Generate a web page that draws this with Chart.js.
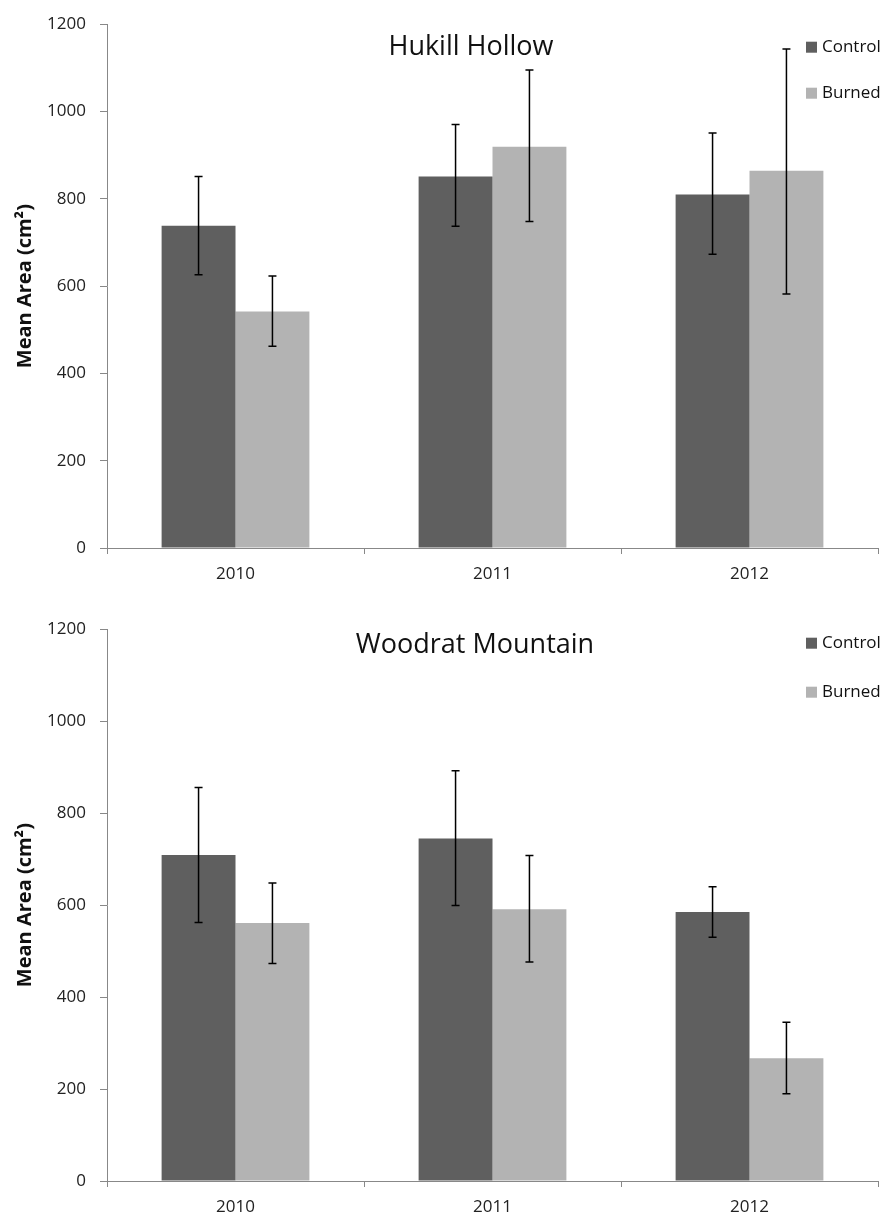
<!DOCTYPE html>
<html lang="en">
<head>
<meta charset="UTF-8">
<title>Mean Area - Hukill Hollow / Woodrat Mountain</title>
<script src="https://cdn.jsdelivr.net/npm/chart.js"></script>
<style>
  body { margin: 0; background: #fff; }
  .panel { position: absolute; left: 0; width: 887px; }
  #top { top: 0; height: 605px; }
  #bottom { top: 605px; height: 615px; }
</style>
</head>
<body>

<div class="panel" id="top"><canvas id="chartTop"></canvas></div>
<div class="panel" id="bottom"><canvas id="chartBottom"></canvas></div>

<script>
const years = ['2010', '2011', '2012'];
const seriesNames = ['Control', 'Burned'];
const yTicks = [0, 200, 400, 600, 800, 1000, 1200];

// Hukill Hollow
const hukillControl = [738, 851, 810];
const hukillControlHi = [851, 970, 951];
const hukillControlLo = [626, 737, 673];
const hukillBurned = [542, 919, 864];
const hukillBurnedHi = [623, 1095, 1143];
const hukillBurnedLo = [462, 748, 582];

// Woodrat Mountain
const woodratControl = [709, 745, 585];
const woodratControlHi = [856, 892, 640];
const woodratControlLo = [562, 599, 530];
const woodratBurned = [561, 591, 267];
const woodratBurnedHi = [648, 708, 345];
const woodratBurnedLo = [473, 476, 190];

const colors = ['#5f5f5f', '#b3b3b3'];
const font = 'Open Sans';

// whiskers drawn on top of the bars
const errorBars = {
    id: 'errorBars',
    afterDatasetsDraw(chart) {
        const ctx = chart.ctx;
        const y = chart.scales.y;
        ctx.save();
        ctx.strokeStyle = '#000';
        ctx.lineWidth = 1.5;
        chart.data.datasets.forEach((ds, i) => {
            chart.getDatasetMeta(i).data.forEach((bar, j) => {
                const top = y.getPixelForValue(ds.errHigh[j]);
                const bot = y.getPixelForValue(ds.errLow[j]);
                ctx.beginPath();
                ctx.moveTo(bar.x, top); ctx.lineTo(bar.x, bot);
                ctx.moveTo(bar.x - 4, top); ctx.lineTo(bar.x + 4, top);
                ctx.moveTo(bar.x - 4, bot); ctx.lineTo(bar.x + 4, bot);
                ctx.stroke();
            });
        });
        ctx.restore();
    }
};

// title and legend sit inside the plot area, like the original
const panelText = {
    id: 'panelText',
    afterDraw(chart, args, opts) {
        const ctx = chart.ctx;
        const area = chart.chartArea;
        ctx.save();
        ctx.fillStyle = '#111';
        ctx.textBaseline = 'middle';
        ctx.textAlign = 'center';
        ctx.font = `27px "${font}"`;
        ctx.fillText(opts.title, opts.titleX, area.top + opts.titleDy);

        ctx.textAlign = 'left';
        ctx.font = `17px "${font}"`;
        chart.data.datasets.forEach((ds, i) => {
            const ly = area.top + opts.legendDy[i];
            ctx.fillStyle = ds.backgroundColor;
            ctx.fillRect(opts.legendX, ly - 5.5, 11, 11);
            ctx.fillStyle = '#111';
            ctx.fillText(ds.label, opts.legendX + 16, ly);
        });
        ctx.restore();
    }
};

function makeChart(id, control, cHi, cLo, burned, bHi, bLo, text, pad, xHeight) {
    const ctx = document.getElementById(id).getContext('2d');
    return new Chart(ctx, {
        type: 'bar',
        data: {
            labels: years,
            datasets: [
                { label: seriesNames[0], data: control, errHigh: cHi, errLow: cLo, backgroundColor: colors[0] },
                { label: seriesNames[1], data: burned, errHigh: bHi, errLow: bLo, backgroundColor: colors[1] }
            ]
        },
        options: {
            responsive: true,
            maintainAspectRatio: false,
            animation: false,
            categoryPercentage: 0.575,
            barPercentage: 1.0,
            layout: { padding: pad },
            plugins: {
                legend: { display: false },
                tooltip: { enabled: false },
                panelText: text
            },
            scales: {
                x: {
                    afterFit(scale) { scale.height = xHeight; },
                    grid: { offset: true, drawOnChartArea: false, tickLength: 6, color: '#888' },
                    border: { color: '#888', width: 1 },
                    ticks: { color: '#222', padding: 10, font: { family: font, size: 17 } }
                },
                y: {
                    min: 0,
                    max: 1200,
                    afterFit(scale) { scale.width = 107; },
                    afterBuildTicks(scale) { scale.ticks = yTicks.map(v => ({ value: v })); },
                    grid: { drawOnChartArea: false, tickLength: 7, color: '#888' },
                    border: { color: '#888', width: 1 },
                    ticks: {
                        color: '#222',
                        padding: 14,
                        font: { family: font, size: 17 },
                        callback: v => String(v)
                    },
                    title: {
                        display: true,
                        text: 'Mean Area (cm²)',
                        color: '#111',
                        padding: { top: 13, bottom: 0 },
                        font: { family: font, size: 20, weight: 'bold' }
                    }
                }
            }
        },
        plugins: [errorBars, panelText]
    });
}

makeChart('chartTop',
    hukillControl, hukillControlHi, hukillControlLo,
    hukillBurned, hukillBurnedHi, hukillBurnedLo,
    { title: 'Hukill Hollow', titleX: 471, titleDy: 23, legendX: 806, legendDy: [23, 69] },
    { top: 20, right: 9, bottom: 17, left: 0 }, 40);

makeChart('chartBottom',
    woodratControl, woodratControlHi, woodratControlLo,
    woodratBurned, woodratBurnedHi, woodratBurnedLo,
    { title: 'Woodrat Mountain', titleX: 475, titleDy: 16, legendX: 806, legendDy: [14, 63] },
    { top: 24, right: 9, bottom: 7, left: 0 }, 32);
</script>

</body>
</html>
